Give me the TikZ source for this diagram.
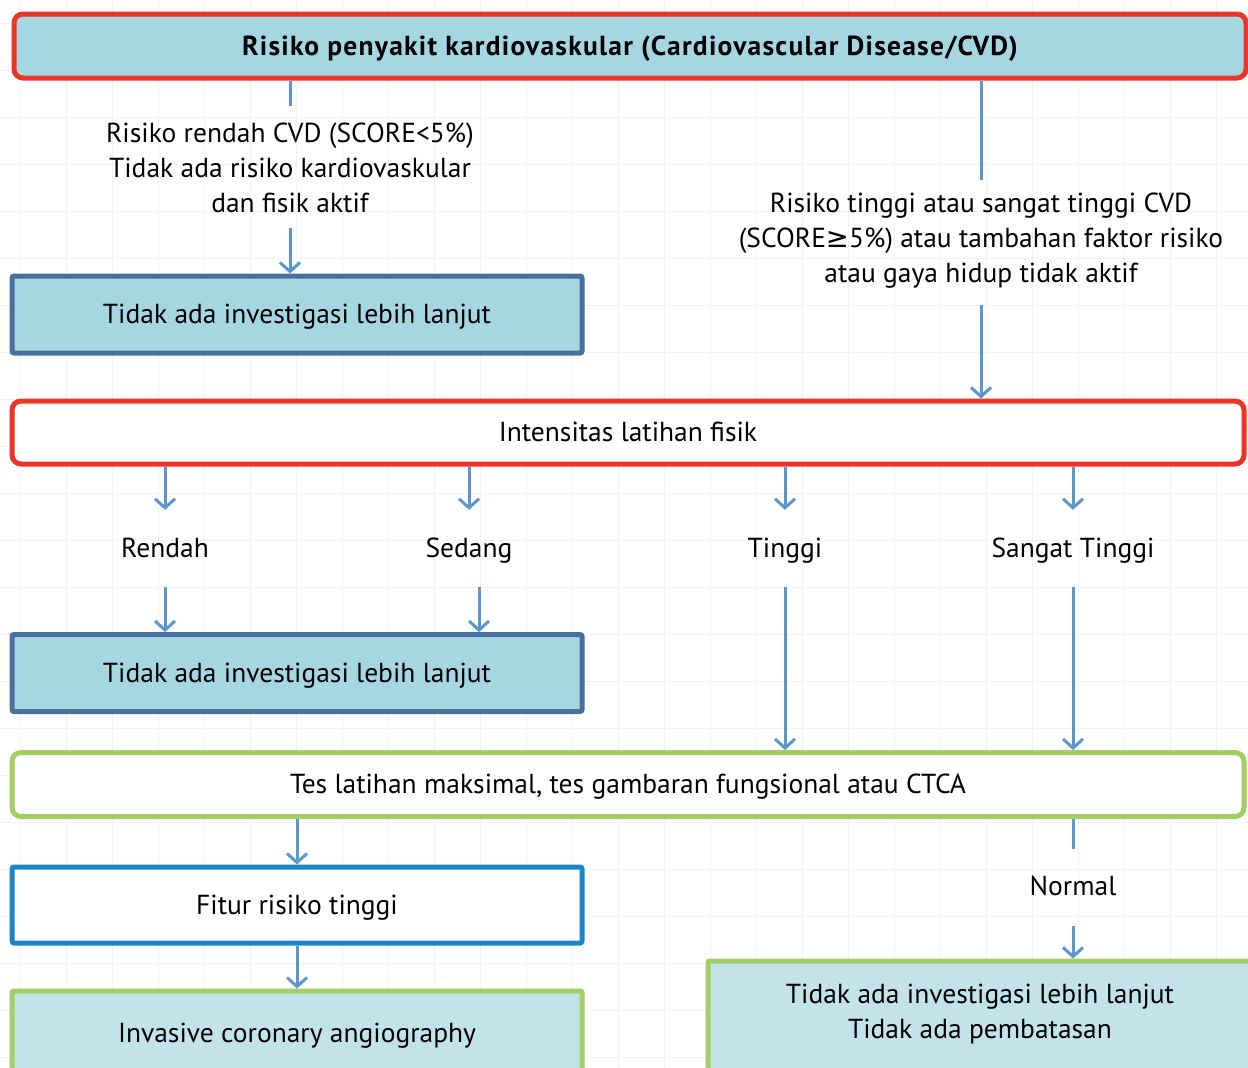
\documentclass[tikz,border=0pt]{standalone}
\usepackage{fontspec}
\setmainfont{PT Sans}
\newfontfamily\symfont{DejaVu Sans}
\usetikzlibrary{arrows.meta}
\definecolor{redb}{HTML}{EE3427}
\definecolor{fillb}{HTML}{A5D6E2}
\definecolor{fillc}{HTML}{C3E3EA}
\definecolor{navyb}{HTML}{48709C}
\definecolor{greenb}{HTML}{A2CE63}
\definecolor{blueb}{HTML}{1A86C8}
\definecolor{arr}{HTML}{5B96CC}
\definecolor{gridc}{HTML}{F1F3F8}
\begin{document}
\begin{tikzpicture}[x=1pt,y=-1pt,
  every node/.style={font=\fontsize{27.5}{35}\selectfont, text=black},
  boxbase/.style={line width=5pt, inner sep=0pt, align=center, text height=19pt, text depth=1pt},
  redbox/.style={boxbase, draw=redb, rounded corners=9pt},
  navybox/.style={boxbase, draw=navyb, fill=fillb, rounded corners=2pt},
  greenbox/.style={boxbase, draw=greenb, rounded corners=9pt},
  greenfill/.style={boxbase, draw=greenb, fill=fillc, rounded corners=2pt},
  bluebox/.style={boxbase, draw=blueb, fill=white, rounded corners=2pt},
  lbl/.style={inner xsep=0pt, inner ysep=27pt, text height=20pt, text depth=3pt},
  mlbl/.style={inner sep=0pt, align=center},
  conn/.style={draw=arr, line width=3pt},
  arrow/.style={conn, -{Straight Barb[length=9pt,width=20pt]}}
]
\useasboundingbox (0,0) rectangle (1248,1068);
\clip (0,0) rectangle (1248,1068);
\fill[white] (0,0) rectangle (1248,1068);
% faint background grid
\foreach \gx in {20,66,112,158,204,250,296,342,388,434,480,526,572,618,664,710,756,802,848,894,940,986,1032,1078,1124,1170,1216}
  \draw[gridc, line width=1pt] (\gx,0) -- (\gx,1068);
\foreach \gy in {23,70,117,164,211,258,305,352,399,446,493,540,587,634,681,728,775,822,869,916,963,1010,1057}
  \draw[gridc, line width=1pt] (0,\gy) -- (1248,\gy);

% boxes
\node[redbox, fill=fillb, minimum width=1232pt, minimum height=64pt] (b1) at (630,46)
  {\addfontfeature{LetterSpace=4.5}\bfseries Risiko penyakit kardiovaskular (Cardiovascular Disease/CVD)};
\node[navybox, minimum width=570pt, minimum height=77pt] (b2) at (297,314.5)
  {Tidak ada investigasi lebih lanjut};
\node[redbox, fill=white, minimum width=1232pt, minimum height=63pt] (b3) at (628,432.5)
  {Intensitas latihan fisik};
\node[navybox, minimum width=570pt, minimum height=77pt] (b4) at (297,673)
  {Tidak ada investigasi lebih lanjut};
\node[greenbox, fill=white, minimum width=1232pt, minimum height=64pt] (b5) at (628,784.5)
  {Tes latihan maksimal, tes gambaran fungsional atau CTCA};
\node[bluebox, minimum width=570pt, minimum height=76pt] (b6) at (297,905)
  {Fitur risiko tinggi};
\node[greenfill, minimum width=570pt, minimum height=84pt] (b7) at (297,1033)
  {Invasive coronary angiography};
\node[greenfill, minimum width=560pt, minimum height=118pt] (b8) at (988,1020) {};
\node[mlbl] (t8) at (980,1014)
  {Tidak ada investigasi lebih lanjut\\Tidak ada pembatasan};

% branch labels
\node[mlbl] (low) at (290,168)
  {Risiko rendah CVD (SCORE<5\%)\\Tidak ada risiko kardiovaskular\\dan fisik aktif};
\node[mlbl] (high) at (981,241)
  {Risiko tinggi atau sangat tinggi CVD\\(SCORE{\symfont ≥}5\%) atau tambahan faktor risiko\\atau gaya hidup tidak aktif};
\coordinate (lowA) at (290,106);
\coordinate (lowB) at (290,228);
\coordinate (highA) at (981,180);
\coordinate (highB) at (981,305);

\node[lbl] (rendah) at (165,548.5) {Rendah};
\node[lbl] (sedang) at (469,548.5) {Sedang};
\node[lbl] (tinggi) at (785,548.5) {Tinggi};
\node[lbl] (sangat) at (1073,548.5) {Sangat Tinggi};
\node[lbl, inner ysep=30pt] (normal) at (1073,886.5) {Normal};

% connectors
\draw[conn] (b1.south -| lowA) -- (lowA);
\draw[arrow] (lowB) -- (b2.north -| lowB);
\draw[conn] (b1.south -| highA) -- (highA);
\draw[arrow] (highB) -- (b3.north -| highB);

\draw[arrow] (b3.south -| rendah) -- (rendah.north);
\draw[arrow] (b3.south -| sedang) -- (sedang.north);
\draw[arrow] (b3.south -| tinggi) -- (tinggi.north);
\draw[arrow] (b3.south -| sangat) -- (sangat.north);

\draw[arrow] (rendah.south) -- (b4.north -| rendah);
\draw[arrow] ([xshift=10pt]sedang.south) -- ([xshift=10pt]b4.north -| sedang);
\draw[arrow] (tinggi.south) -- (b5.north -| tinggi);
\draw[arrow] (sangat.south) -- (b5.north -| sangat);

\draw[arrow] (b5.south -| b6) -- (b6.north);
\draw[arrow] (b6.south) -- (b7.north);
\draw[conn] (b5.south -| normal) -- ([yshift=-4pt]normal.north);
\draw[arrow] ([yshift=2pt]normal.south) -- (b8.north -| normal);
\end{tikzpicture}
\end{document}
